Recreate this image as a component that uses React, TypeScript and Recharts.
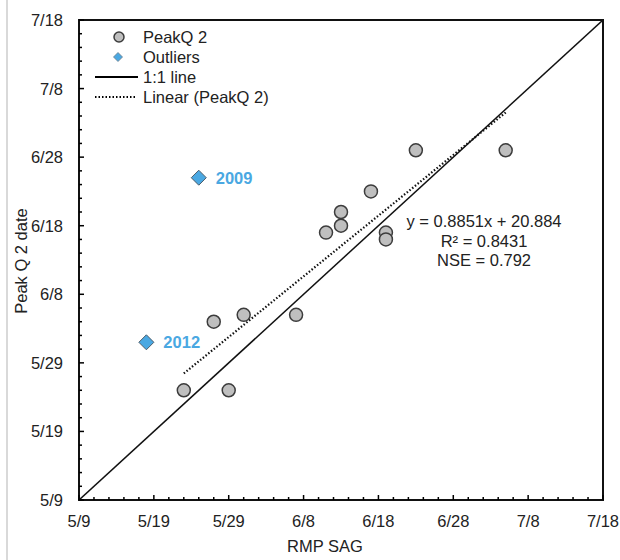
import {
  ComposedChart,
  Scatter,
  Line,
  XAxis,
  YAxis,
  ReferenceArea,
  Legend,
  Customized,
} from 'recharts';

// dates are month/day, plotted as day of year
const rmpSag = ['5/23', '5/29', '5/27', '5/31', '6/7', '6/11', '6/13', '6/13', '6/17', '6/19', '6/19', '6/23', '7/5'];
const peakQ2 = ['5/25', '5/25', '6/4', '6/5', '6/5', '6/17', '6/18', '6/20', '6/23', '6/17', '6/16', '6/29', '6/29'];
const outlierYears = ['2009', '2012'];
const outlierSag = ['5/25', '5/18'];
const outlierPeak = ['6/25', '6/1'];
const axisLabels = ['5/9', '5/19', '5/29', '6/8', '6/18', '6/28', '7/8', '7/18'];
const fitSlope = 0.8851;
const fitIntercept = 20.884;
const fitR2 = 0.8431;
const fitNse = 0.792;

const FONT = 'Arial, "Liberation Sans", sans-serif';
const BLUE = '#4aa8e2';
const monthDays = [31, 28, 31, 30, 31, 30, 31, 31, 30, 31, 30, 31];

const toDoy = (md: string) => {
  const [m, d] = md.split('/').map(Number);
  let n = d;
  for (let i = 0; i < m - 1; i++) n += monthDays[i];
  return n;
};

const fromDoy = (doy: number) => {
  let m = 0;
  let d = doy;
  while (d > monthDays[m]) {
    d -= monthDays[m];
    m++;
  }
  return `${m + 1}/${d}`;
};

const majorTicks = axisLabels.map(toDoy);
const domainMin = majorTicks[0];
const domainMax = majorTicks[majorTicks.length - 1];
const allTicks: number[] = [];
for (let t = domainMin; t <= domainMax; t += 2) allTicks.push(t);

const peakData = rmpSag.map((s, i) => ({ x: toDoy(s), y: toDoy(peakQ2[i]) }));
const outlierData = outlierYears.map((year, i) => ({
  x: toDoy(outlierSag[i]),
  y: toDoy(outlierPeak[i]),
  year,
}));
const xs = peakData.map(p => p.x);
const fitData = [Math.min(...xs), Math.max(...xs)].map(x => ({ x, y: fitSlope * x + fitIntercept }));
const oneToOne = [domainMin, domainMax].map(v => ({ x: v, y: v }));

const XTick = (props: any) => {
  const { x, y, payload } = props;
  const major = majorTicks.includes(payload.value);
  return (
    <g>
      <line x1={x} x2={x} y1={y} y2={y - (major ? 5 : 3)} stroke="#000" strokeWidth={1.5} />
      {major && (
        <text x={x} y={y + 27} textAnchor="middle" fontSize={16.5} fontFamily={FONT} fill="#222">
          {fromDoy(payload.value)}
        </text>
      )}
    </g>
  );
};

const YTick = (props: any) => {
  const { x, y, payload } = props;
  const major = majorTicks.includes(payload.value);
  return (
    <g>
      <line x1={x} x2={x + (major ? 5 : 3)} y1={y} y2={y} stroke="#000" strokeWidth={1.5} />
      {major && (
        <text x={x - 16} y={y + 6} textAnchor="end" fontSize={16.5} fontFamily={FONT} fill="#222">
          {fromDoy(payload.value)}
        </text>
      )}
    </g>
  );
};

const GrayDot = (p: any) => (
  <circle cx={p.cx} cy={p.cy} r={6.5} fill="#bfbfbf" stroke="#3c3c3c" strokeWidth={1.5} />
);

const Diamond = (p: any) => (
  <g>
    <polygon
      points={`${p.cx},${p.cy - 7.5} ${p.cx + 7.5},${p.cy} ${p.cx},${p.cy + 7.5} ${p.cx - 7.5},${p.cy}`}
      fill={BLUE}
      stroke="#4d5d6a"
      strokeWidth={1}
    />
    <text x={p.cx + 17} y={p.cy + 6} fontSize={16.5} fontWeight="bold" fontFamily={FONT} fill={BLUE}>
      {p.payload.year}
    </text>
  </g>
);

const LegendBox = () => {
  const rows = [
    { name: 'PeakQ 2', icon: <circle cx={29} cy={10} r={5} fill="#bfbfbf" stroke="#3c3c3c" strokeWidth={1.5} /> },
    { name: 'Outliers', icon: <polygon points="28,5.5 32.5,10 28,14.5 23.5,10" fill={BLUE} stroke="#6b7b88" strokeWidth={0.8} /> },
    { name: '1:1 line', icon: <line x1={5} x2={48} y1={10} y2={10} stroke="#000" strokeWidth={2} /> },
    { name: 'Linear (PeakQ 2)', icon: <line x1={5} x2={47} y1={10} y2={10} stroke="#000" strokeWidth={2} strokeDasharray="1.5 2" /> },
  ];
  return (
    <div style={{ fontFamily: FONT, fontSize: 16.5, color: '#222' }}>
      {rows.map(r => (
        <div key={r.name} style={{ display: 'flex', alignItems: 'center', height: 20 }}>
          <svg width={50} height={20}>{r.icon}</svg>
          <span style={{ marginLeft: 3, whiteSpace: 'nowrap' }}>{r.name}</span>
        </div>
      ))}
    </div>
  );
};

const Equation = () => (
  <g fontFamily={FONT} fontSize={16.5} fill="#222" textAnchor="middle">
    <text x={484} y={227}>{`y = ${fitSlope}x + ${fitIntercept}`}</text>
    <text x={484} y={247}>{`R² = ${fitR2}`}</text>
    <text x={484} y={266}>{`NSE = ${fitNse}`}</text>
  </g>
);

export default function App() {
  return (
    <div style={{ position: 'absolute', left: 0, top: 0, width: 620, height: 560, background: '#fff' }}>
      <div style={{ position: 'absolute', left: 6, top: 0, width: 2, height: 560, background: '#d9d9d9' }} />
      <ComposedChart
        width={620}
        height={560}
        margin={{ top: 20, right: 17, bottom: 4, left: 9 }}
      >
        <XAxis
          type="number"
          dataKey="x"
          domain={[domainMin, domainMax]}
          ticks={allTicks}
          interval={0}
          allowDataOverflow
          axisLine={false}
          tickLine={false}
          tickSize={0}
          tickMargin={0}
          tick={<XTick />}
          height={56}
          label={{
            content: ({ viewBox }: any) => (
              <text
                x={viewBox.x + viewBox.width / 2 - 16}
                y={552}
                textAnchor="middle"
                fontSize={16.5}
                fontFamily={FONT}
                fill="#222"
              >
                RMP SAG
              </text>
            ),
          }}
        />
        <YAxis
          type="number"
          dataKey="y"
          domain={[domainMin, domainMax]}
          ticks={allTicks}
          interval={0}
          allowDataOverflow
          axisLine={false}
          tickLine={false}
          tickSize={0}
          tickMargin={0}
          tick={<YTick />}
          width={70}
          label={{
            content: ({ viewBox }: any) => (
              <text
                x={27}
                y={viewBox.y + viewBox.height / 2 + 1}
                transform={`rotate(-90 27 ${viewBox.y + viewBox.height / 2 + 1})`}
                textAnchor="middle"
                fontSize={16.5}
                fontFamily={FONT}
                fill="#222"
              >
                Peak Q 2 date
              </text>
            ),
          }}
        />
        <ReferenceArea
          x1={domainMin}
          x2={domainMax}
          y1={domainMin}
          y2={domainMax}
          fill="none"
          fillOpacity={0}
          stroke="#111"
          strokeWidth={2}
          ifOverflow="visible"
        />
        <Line
          data={oneToOne}
          dataKey="y"
          stroke="#111"
          strokeWidth={1.5}
          dot={false}
          legendType="none"
          isAnimationActive={false}
        />
        <Line
          data={fitData}
          dataKey="y"
          stroke="#111"
          strokeWidth={2.2}
          strokeDasharray="1.5 2"
          dot={false}
          legendType="none"
          isAnimationActive={false}
        />
        <Scatter data={peakData} shape={<GrayDot />} isAnimationActive={false} />
        <Scatter data={outlierData} shape={<Diamond />} isAnimationActive={false} />
        <Customized component={<Equation />} />
        <Legend
          layout="vertical"
          align="center"
          verticalAlign="middle"
          content={<LegendBox />}
          wrapperStyle={{ left: 90, top: 27, width: 200, height: 80 }}
        />
      </ComposedChart>
    </div>
  );
}
